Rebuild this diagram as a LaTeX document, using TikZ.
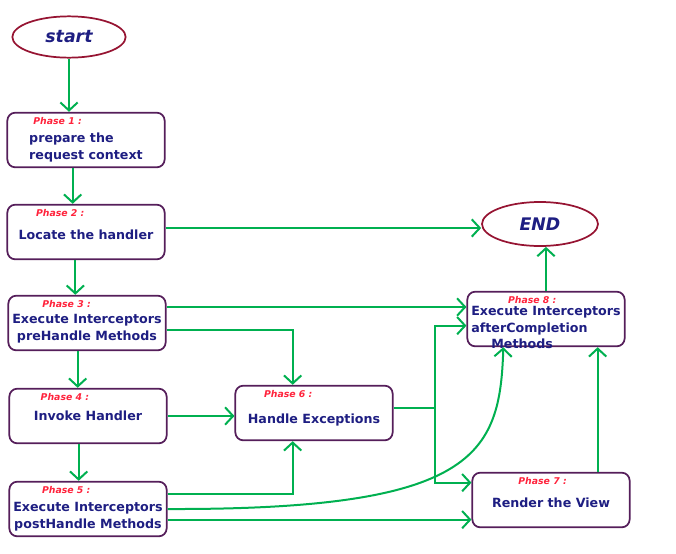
\documentclass[tikz,border=0pt]{standalone}
\usepackage{fontspec}
\setmainfont{DejaVu Sans}
\usetikzlibrary{arrows.meta,positioning,shapes.geometric}
\definecolor{navytxt}{RGB}{30,30,130}
\definecolor{phasered}{RGB}{255,35,60}
\definecolor{boxline}{RGB}{85,30,90}
\definecolor{ovalline}{RGB}{150,20,50}
\definecolor{flowgreen}{RGB}{0,176,80}
\newcommand{\lift}[1]{\rule{0pt}{#1}}

\begin{document}
\begin{tikzpicture}[
  x=0.75pt,y=-0.75pt,
  font=\bfseries\fontsize{9.5}{12.5}\selectfont,
  phasebox/.style={draw=boxline,line width=1.3pt,rounded corners=6pt,
              minimum width=118pt,minimum height=41pt,inner xsep=1pt,
              align=center,text=navytxt},
  oval/.style={draw=ovalline,line width=1.3pt,ellipse,inner sep=0pt,
              text=navytxt,font=\bfseries\itshape\fontsize{13}{15}\selectfont},
  phasetxt/.style={text=phasered,inner sep=0pt,
              font=\bfseries\itshape\fontsize{7}{8}\selectfont},
  phase/.style 2 args={label={[phasetxt,anchor=north west,xshift=#2,
              yshift=-4pt]north west:{#1}}},
  arrow/.style={-{Straight Barb[length=6pt,width=13pt]},draw=flowgreen,
              line width=1.5pt}
]
\useasboundingbox (0,0) rectangle (676,554);

\node[oval,minimum width=85pt,minimum height=31pt] (start) at (69,37) {start};
\node[phasebox,phase={Phase 1 :}{20pt},align=left] (p1) at (86,140)
 {\lift{18pt}prepare the\\request context};
\node[phasebox,phase={Phase 2 :}{22pt}] (p2) at (86,232)
 {\lift{11pt}Locate the handler};
\node[phasebox,phase={Phase 3 :}{26pt}] (p3) at (87,323)
 {\lift{15pt}Execute Interceptors\\preHandle Methods};
\node[phasebox,phase={Phase 4 :}{24pt}] (p4) at (88,416) {Invoke Handler};
\node[phasebox,phase={Phase 5 :}{25pt}] (p5) at (88,509)
 {\lift{18pt}Execute Interceptors\\postHandle Methods};
\node[phasebox,phase={Phase 6 :}{22pt}] (p6) at (314,413)
 {\lift{18pt}Handle Exceptions};
\node[oval,minimum width=87pt,minimum height=33pt] (end) at (540,224) {END};
\node[phasebox,phase={Phase 8 :}{31pt},align=left,inner ysep=-3pt] (p8)
 at (546,319) {\lift{20pt}Execute Interceptors\\afterCompletion\\
 \hspace*{15pt}Methods};
\node[phasebox,phase={Phase 7 :}{35pt}] (p7) at (551,500)
 {\lift{11pt}Render the View};

\draw[arrow] (start.south) -- (start.south |- p1.north);
\draw[arrow] ([xshift=-10pt]p1.south) -- ([xshift=-10pt]p1.south |- p2.north);
\draw[arrow] ([xshift=-8pt]p2.south) -- ([xshift=-8pt]p2.south |- p3.north);
\draw[arrow] ([xshift=-7pt]p3.south) -- ([xshift=-7pt]p3.south |- p4.north);
\draw[arrow] ([xshift=-7pt]p4.south) -- ([xshift=-7pt]p4.south |- p5.north);

\draw[arrow] ([yshift=3pt]p2.east) -- ([yshift=3pt]p2.east -| end.west);
\draw[arrow] ([yshift=12pt]p3.east) -- ([yshift=12pt]p3.east -| p8.west);
\draw[arrow] ([yshift=-5pt]p3.east) -| ([xshift=-16pt]p6.north);
\draw[arrow] (p4.east) -- (p4.east -| p6.west);
\draw[arrow] ([yshift=11pt]p5.east) -| ([xshift=-16pt]p6.south);

\coordinate (split) at ([xshift=31pt,yshift=4pt]p6.east);
\draw[flowgreen,line width=1.5pt] ([yshift=4pt]p6.east) -- (split);
\draw[arrow] (split) |- ([yshift=-5pt]p8.west);
\draw[arrow] (split) |- ([yshift=13pt]p7.west);

\draw[arrow] (p5.east) .. controls (475,510) and (500,455)
 .. ([xshift=-32pt]p8.south);
\draw[arrow] ([yshift=-8pt]p5.east) -- ([yshift=-8pt]p5.east -| p7.west);
\draw[arrow] ([xshift=35pt]p7.north) -- ([xshift=35pt]p7.north |- p8.south);
\draw[arrow] (p8.north) -- (p8.north |- end.south);
\end{tikzpicture}
\end{document}
